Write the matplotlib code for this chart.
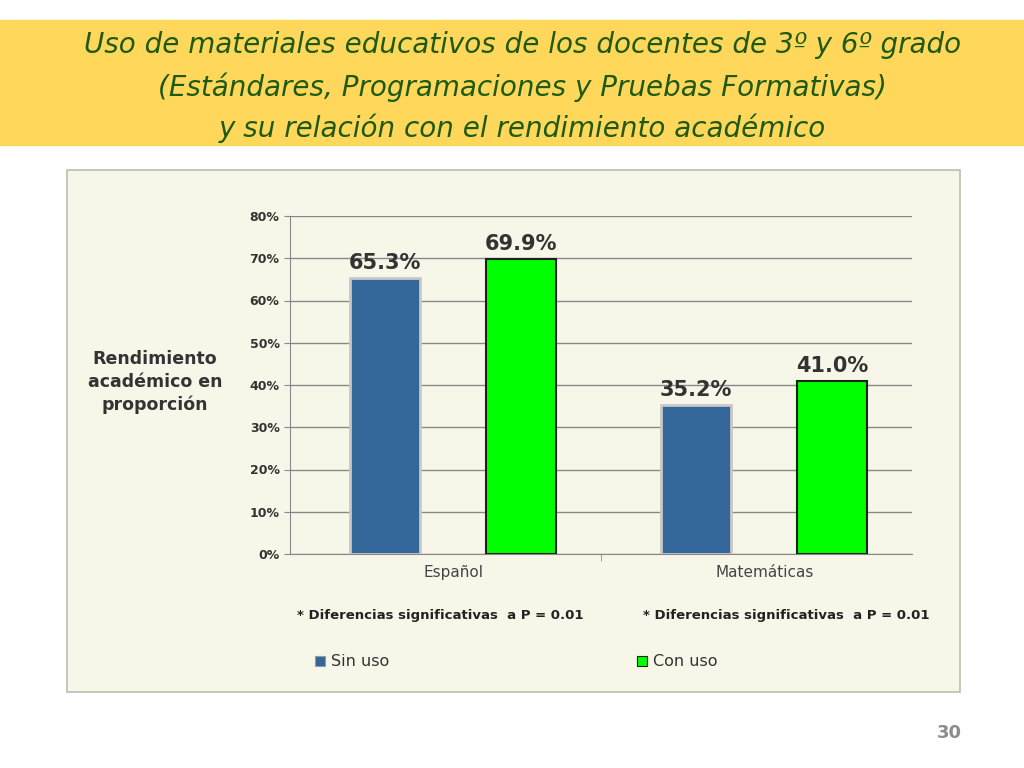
import matplotlib
matplotlib.use("Agg")
import matplotlib.pyplot as plt
from matplotlib.patches import Rectangle

categories = ["Español", "Matemáticas"]
sin_uso = [65.3, 35.2]
con_uso = [69.9, 41.0]
yticks = [0, 10, 20, 30, 40, 50, 60, 70, 80]

fig = plt.figure(figsize=(10.24, 7.68), dpi=100)
W, H = 1024, 768
def fx(x): return x / W
def fy(y): return 1 - y / H

fig.patches.append(Rectangle((0, fy(145)), 1, (145-20)/H, transform=fig.transFigure,
                             color="#FFD75A", zorder=0))
for t, y in [("Uso de materiales educativos de los docentes de 3º y 6º grado", 45),
             ("(Estándares, Programaciones y Pruebas Formativas)", 87),
             ("y su relación con el rendimiento académico", 128)]:
    fig.text(0.51, fy(y), t, ha="center", va="center", fontsize=20, color="#1E5A14",
             style="italic")

fig.patches.append(Rectangle((fx(67), fy(692)), (960-67)/W, (692-170)/H, transform=fig.transFigure,
                             facecolor="#F7F7E9", edgecolor="#BDBDB0", lw=1.2, zorder=0))

ax = fig.add_axes([fx(290), fy(554), (912-290)/W, (554-216)/H])
ax.set_zorder(5)
ax.set_facecolor("none")
x = [0, 1]
off, w = 0.219, 0.225
ax.bar([i - off for i in x], sin_uso, w, color="#336699", edgecolor="#C8C8C8", lw=2, zorder=3)
ax.bar([i + off for i in x], con_uso, w, color="#00FF00", edgecolor="#202020", lw=1.5, zorder=3)
for i in x:
    ax.text(i - off, sin_uso[i] + 1.2, f"{sin_uso[i]:.1f}%", ha="center", va="bottom",
            fontsize=15, fontweight="bold", color="#333333")
    ax.text(i + off, con_uso[i] + 1.2, f"{con_uso[i]:.1f}%", ha="center", va="bottom",
            fontsize=15, fontweight="bold", color="#333333")
ax.set_xlim(-0.525, 1.475)
ax.set_ylim(0, 80)
ax.set_yticks(yticks)
ax.set_yticklabels([f"{v}%" for v in yticks], fontsize=9, fontweight="bold", color="#333333")
ax.set_xticks([0, 1])
ax.set_xticklabels(categories, fontsize=11, color="#444444")
ax.set_xticks([0.475], minor=True)
ax.tick_params(axis="x", which="major", length=0, pad=8)
ax.tick_params(axis="x", which="minor", length=5, color="#888888")
ax.tick_params(axis="y", length=4, color="#888888")
ax.grid(axis="y", color="#888888", lw=1, zorder=0)
for s in ["top", "right"]:
    ax.spines[s].set_visible(False)
ax.spines["left"].set_color("#888888")
ax.spines["bottom"].set_color("#888888")

fig.text(fx(155), fy(382), "Rendimiento\nacadémico en\nproporción", ha="center", va="center",
         fontsize=12.5, fontweight="bold", color="#333333", linespacing=1.35)
fig.text(fx(440), fy(616), "* Diferencias significativas  a P = 0.01", ha="center", va="center",
         fontsize=9.5, fontweight="bold", color="#222222")
fig.text(fx(786), fy(616), "* Diferencias significativas  a P = 0.01", ha="center", va="center",
         fontsize=9.5, fontweight="bold", color="#222222")
for xs, col, ec, lab in [(315, "#336699", "#999999", "Sin uso"), (637, "#00FF00", "#202020", "Con uso")]:
    fig.patches.append(Rectangle((fx(xs), fy(666)), 10/W, 10/H, transform=fig.transFigure,
                                 facecolor=col, edgecolor=ec, lw=0.8))
    fig.text(fx(xs + 16), fy(661), lab, ha="left", va="center", fontsize=11.5, color="#333333")

fig.text(fx(962), fy(733), "30", ha="right", va="center", fontsize=13, fontweight="bold", color="#8C8C8C")
fig.savefig("out.png", dpi=100)
